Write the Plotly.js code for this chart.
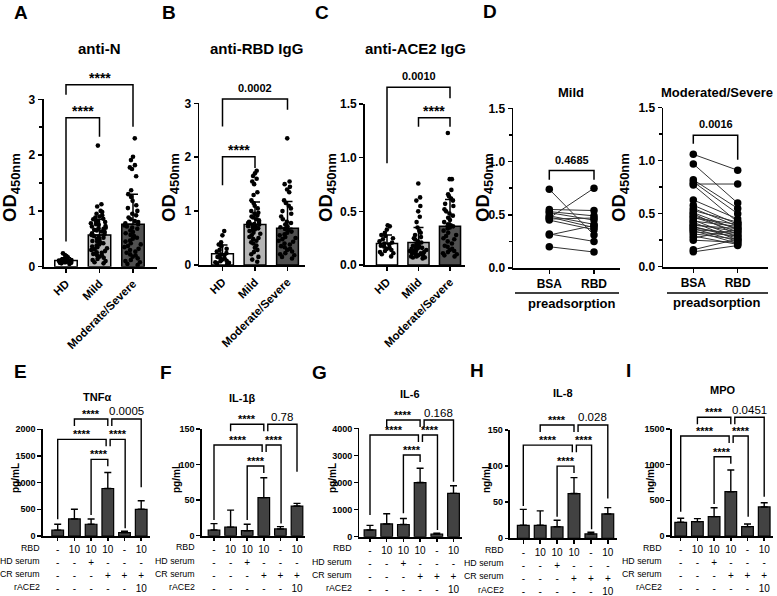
<!DOCTYPE html>
<html><head><meta charset="utf-8">
<script src="https://cdn.plot.ly/plotly-3.0.1.min.js"></script>
<style>html,body{margin:0;padding:0;background:#fff}#chart{width:777px;height:596px}</style>
</head><body><div id="chart"></div>
<script>
// ================= DATA =================
const groupCats = ['HD', 'Mild', 'Moderate/Severe'];

// anti-N (OD450nm)
const antiN_HD = [0.05,0.06,0.07,0.07,0.08,0.08,0.08,0.09,0.09,0.1,0.1,0.1,0.1,0.11,0.11,0.12,0.12,0.13,0.14,0.15,0.17,0.19,0.21,0.24];
const antiN_Mild = [2.17,1.12,1.08,1.0,0.98,0.95,0.92,0.9,0.88,0.86,0.85,0.82,0.8,0.8,0.78,0.76,0.75,0.73,0.72,0.7,0.69,0.68,0.66,0.65,0.63,0.62,0.6,0.58,0.57,0.55,0.53,0.52,0.5,0.48,0.46,0.45,0.43,0.42,0.4,0.38,0.36,0.35,0.33,0.31,0.3,0.28,0.26,0.25,0.23,0.21,0.2,0.18,0.16,0.14,0.12,0.1,0.08,0.06];
const antiN_Sev = [2.30,1.97,1.91,1.82,1.78,1.75,1.62,1.37,1.30,1.25,1.18,1.1,1.05,1.0,0.95,0.92,0.88,0.85,0.82,0.8,0.78,0.76,0.74,0.72,0.7,0.68,0.65,0.62,0.6,0.57,0.55,0.52,0.5,0.47,0.45,0.42,0.4,0.37,0.35,0.32,0.3,0.27,0.25,0.22,0.2,0.18,0.15,0.12,0.1,0.08,0.05,0.03];
const antiN_mean = [0.11, 0.57, 0.76];
const antiN_sd = [0.05, 0.28, 0.54];

// anti-RBD IgG
const antiRBD_HD = [0.63,0.55,0.42,0.38,0.35,0.3,0.28,0.25,0.22,0.2,0.18,0.15,0.13,0.12,0.1,0.08,0.07,0.05,0.04,0.03,0.02];
const antiRBD_Mild = [1.75,1.7,1.65,1.6,1.55,1.5,1.35,1.3,1.2,1.15,1.1,1.05,1.0,0.97,0.95,0.92,0.9,0.88,0.85,0.83,0.8,0.8,0.78,0.77,0.76,0.75,0.74,0.73,0.72,0.7,0.7,0.68,0.66,0.65,0.63,0.6,0.58,0.55,0.52,0.5,0.48,0.45,0.42,0.4,0.36,0.32,0.28,0.24,0.2,0.15,0.1,0.06];
const antiRBD_Sev = [2.35,1.55,1.5,1.45,1.4,1.35,1.2,1.15,1.1,1.05,1.0,0.95,0.9,0.85,0.8,0.78,0.75,0.72,0.7,0.67,0.65,0.62,0.6,0.57,0.55,0.52,0.5,0.48,0.45,0.43,0.4,0.38,0.35,0.33,0.3,0.28,0.25,0.22,0.2,0.18,0.15,0.12];
const antiRBD_mean = [0.21, 0.75, 0.68];
const antiRBD_sd = [0.16, 0.42, 0.5];

// anti-ACE2 IgG
const antiACE2_HD = [0.37,0.36,0.33,0.3,0.28,0.27,0.25,0.24,0.22,0.21,0.2,0.19,0.18,0.17,0.16,0.15,0.14,0.13,0.12,0.11,0.1,0.08];
const antiACE2_Mild = [0.76,0.63,0.6,0.55,0.5,0.45,0.4,0.35,0.32,0.3,0.28,0.26,0.25,0.24,0.22,0.21,0.2,0.19,0.18,0.18,0.17,0.16,0.16,0.15,0.15,0.14,0.14,0.13,0.13,0.12,0.12,0.11,0.11,0.1,0.1,0.09,0.09,0.08,0.08,0.07,0.07,0.06];
const antiACE2_Sev = [1.23,0.8,0.8,0.7,0.66,0.64,0.62,0.6,0.57,0.55,0.52,0.5,0.48,0.46,0.44,0.42,0.4,0.38,0.37,0.36,0.35,0.34,0.32,0.3,0.28,0.27,0.25,0.24,0.22,0.2,0.18,0.17,0.15,0.14,0.13,0.12,0.11,0.1,0.09,0.08];
const antiACE2_mean = [0.2, 0.21, 0.36];
const antiACE2_sd = [0.08, 0.14, 0.25];

// Preadsorption (paired)
const preCats = ['BSA', 'RBD'];
const mildBSA = [0.74,0.47,0.55,0.53,0.52,0.49,0.48,0.46,0.45,0.32,0.31,0.20];
const mildRBD = [0.31,0.75,0.54,0.49,0.45,0.41,0.38,0.47,0.36,0.25,0.40,0.15];
const sevBSA = [1.06,0.97,0.82,0.80,0.78,0.77,0.63,0.58,0.55,0.53,0.51,0.50,0.48,0.47,0.46,0.44,0.43,0.42,0.40,0.39,0.38,0.37,0.36,0.35,0.34,0.33,0.31,0.29,0.27,0.25,0.16,0.14];
const sevRBD = [0.91,0.60,0.55,0.50,0.78,0.42,0.45,0.40,0.38,0.42,0.35,0.30,0.36,0.33,0.40,0.28,0.38,0.25,0.33,0.36,0.27,0.30,0.24,0.32,0.22,0.29,0.26,0.21,0.35,0.23,0.26,0.20];

// Cytokine panels (6 conditions)
const rbdRow  = ['-','10','10','10','-','10'];
const hdRow   = ['-','-','+','-','-','-'];
const crRow   = ['-','-','-','+','+','+'];
const aceRow  = ['-','-','-','-','-','10'];
const rowLabels = ['RBD','HD serum','CR serum','rACE2'];

const tnfMean  = [110, 320, 220, 890, 65, 500];
const tnfSd    = [110, 180, 100, 300, 25, 160];
const il1bMean = [8, 12, 7, 53.5, 9.5, 41.7];
const il1bSd   = [9, 24, 9, 28, 3.3, 3.8];
const il6Mean  = [250, 470, 450, 2000, 100, 1600];
const il6Sd    = [170, 380, 220, 530, 25, 280];
const il8Mean  = [18, 18, 16, 62, 6, 33.7];
const il8Sd    = [22, 20, 9, 22, 2.3, 8.8];
const mpoMean  = [192, 201, 271, 621, 131, 407];
const mpoSd    = [56, 42, 126, 304, 37, 60];
const cytTitles = ['TNFα','IL-1β','IL-6','IL-8','MPO'];
const cytUnits  = ['pg/mL','pg/mL','pg/mL','ng/mL','ng/mL'];
const cytP      = ['0.0005','0.78','0.168','0.028','0.0451'];

// ================= LAYOUT GEOMETRY =================
const W = 777, H = 596;
const FONT = 'Liberation Sans, Arial, Helvetica, sans-serif';
const geo = {
  A:  {ax:43.5, xe:156.7, c0:66,    step:33.5, y0:266.7, ppu:55.8,  max:3,    dt:1},
  B:  {ax:199.3,xe:305,   c0:222.5, step:32.5, y0:265,   ppu:53.9,  max:3,    dt:1},
  C:  {ax:365,  xe:465,   c0:387,   step:31.5, y0:265,   ppu:107.3, max:1.5,  dt:0.5},
  D1: {ax:513.3,xe:620,   c0:549.3, step:44.7, y0:268,   ppu:106.4, max:1.5,  dt:0.5},
  D2: {ax:663.3,xe:768.3, c0:693.3, step:44.4, y0:266.7, ppu:106,   max:1.5,  dt:0.5},
  E:  {ax:42.7, xe:150,   c0:57.7,  step:16.7, y0:536,   ppu:106.7/2000, max:2000, dt:500, rowX:41.5},
  F:  {ax:201.7,xe:305,   c0:214,   step:16.6, y0:535.7, ppu:106.7/150,  max:150,  dt:50,  rowX:197.5},
  G:  {ax:359.3,xe:462,   c0:370,   step:16.7, y0:536.7, ppu:108.3/4000, max:4000, dt:1000, rowX:353.5},
  H:  {ax:510,  xe:616.7, c0:523.3, step:16.9, y0:538.3, ppu:108.3/150,  max:150,  dt:50,  rowX:505.5},
  I:  {ax:671.7,xe:773,   c0:680.7, step:16.7, y0:536,   ppu:107/1500,   max:1500, dt:500, rowX:664}
};
const xpx = (g,i) => g.c0 + i*g.step;
const ypx = (g,v) => g.y0 - v*g.ppu;
const PX = x => x/W, PY = y => 1 - y/H;

const layout = {
  width: W, height: H, margin:{l:0,r:0,t:0,b:0}, showlegend:false,
  paper_bgcolor:'#fff', plot_bgcolor:'rgba(0,0,0,0)',
  font:{family:FONT, color:'#000'},
  annotations:[], shapes:[]
};
const data = [];
const annotations = layout.annotations, shapes = layout.shapes;

function txt(x, y, text, size, weight, extra){
  annotations.push(Object.assign({xref:'paper', yref:'paper', x:PX(x), y:PY(y), text, showarrow:false,
    xanchor:'center', yanchor:'middle', font:{family:FONT, size, color:'#000', weight:weight||'bold'}}, extra||{}));
}
function bracket(g, x0, x1, yTop, b0, b1, thick){
  const X0 = PX(xpx(g,x0)), X1 = PX(xpx(g,x1));
  const T = PY(ypx(g,yTop)), Y0 = PY(typeof b0 === 'object' ? ypx(g,yTop)+b0.px : ypx(g,b0)), Y1 = PY(typeof b1 === 'object' ? ypx(g,yTop)+b1.px : ypx(g,b1));
  shapes.push({type:'path', xref:'paper', yref:'paper',
    path:`M ${X0},${Y0} L ${X0},${T} L ${X1},${T} L ${X1},${Y1}`, line:{color:'#000', width:thick||1.4}});
}

let axN = 0;
function makeAxes(g, opts){
  axN++;
  const xa = 'xaxis' + (axN===1?'':axN), ya = 'yaxis' + (axN===1?'':axN);
  const xr = 'x' + (axN===1?'':axN), yr = 'y' + (axN===1?'':axN);
  layout[xa] = Object.assign({
    domain:[PX(g.ax), PX(g.xe)], range:[(g.ax-g.c0)/g.step, (g.xe-g.c0)/g.step], anchor:yr,
    showline:true, linewidth:1.8, linecolor:'#000', ticks:'outside', ticklen:4, tickwidth:1.5, tickcolor:'#000',
    showgrid:false, zeroline:false, fixedrange:true
  }, opts.x||{});
  layout[ya] = Object.assign({
    domain:[PY(g.y0), PY(g.y0 - g.max*g.ppu)], range:[0, g.max], anchor:xr,
    showline:true, linewidth:1.8, linecolor:'#000', ticks:'outside', ticklen:4, tickwidth:1.5, tickcolor:'#000',
    tickmode:'linear', tick0:0, dtick:g.dt,
    showgrid:false, zeroline:false, fixedrange:true
  }, opts.y||{});
  return {x:xr, y:yr};
}

// ---------- Top scatter/bar panels ----------
const barFill = ['#ffffff', '#b4b4b4', '#505050'];
function groupPanel(g, groups, means, sds, title, titleX, yfmt, minor){
  const yopts = {tickfont:{family:FONT, size:12, weight:'bold'}, tickformat:yfmt||''};
  if (minor) yopts.minor = {ticks:'outside', dtick:minor, ticklen:2.5, tickwidth:1.5, tickcolor:'#000'};
  const a = makeAxes(g, {
    x:{tickmode:'array', tickvals:[0,1,2], ticktext:groupCats, tickangle:-45,
       tickfont:{family:FONT, size:11.5, weight:'bold'}},
    y:yopts
  });
  data.push({type:'bar', x:[0,1,2], y:means, width:0.67, xaxis:a.x, yaxis:a.y,
    marker:{color:barFill, line:{color:'#000', width:1.5}},
    error_y:{type:'data', symmetric:false, array:sds, arrayminus:sds.map(()=>0), color:'#000', thickness:1.5, width:5},
    hoverinfo:'skip'});
  groups.forEach((vals, i) => {
    data.push({type:'box', x:vals.map(()=>i), y:vals, xaxis:a.x, yaxis:a.y, width:0.62,
      boxpoints:'all', jitter:0.9, pointpos:0, fillcolor:'rgba(0,0,0,0)',
      line:{color:'rgba(0,0,0,0)', width:0}, marker:{color:'#000', size:4.6}, hoverinfo:'skip'});
  });
  txt(titleX, 48, title, 15);
}

groupPanel(geo.A, [antiN_HD, antiN_Mild, antiN_Sev], antiN_mean, antiN_sd, 'anti-N', 99, '', 0.5);
groupPanel(geo.B, [antiRBD_HD, antiRBD_Mild, antiRBD_Sev], antiRBD_mean, antiRBD_sd, 'anti-RBD IgG', 256);
groupPanel(geo.C, [antiACE2_HD, antiACE2_Mild, antiACE2_Sev], antiACE2_mean, antiACE2_sd, 'anti-ACE2 IgG', 415, '.1f');

// brackets top
function topBracket(g, x0, x1, y, b0, b1, label){
  bracket(g, x0, x1, y, b0, b1, 1.5);
  const isStar = label.indexOf('*') >= 0;
  txt((xpx(g,x0)+xpx(g,x1))/2, ypx(g,y) - (isStar ? 7 : 11), label, isStar ? 14 : 11);
}
topBracket(geo.A, 0, 1, 2.67, 0.45, 2.33, '****');
topBracket(geo.A, 0, 2, 3.26, 3.08, 2.51, '****');
topBracket(geo.B, 0, 1, 2.01, 1.48, 1.80, '****');
topBracket(geo.B, 0, 2, 3.08, 2.57, 2.88, '0.0002');
topBracket(geo.C, 0, 2, 1.656, 0.948, 1.553, '0.0010');
topBracket(geo.C, 1, 2, 1.373, 1.289, 1.289, '****');

// ---------- Paired panels ----------
function pairedPanel(g, bsa, rbd, title, titleX, p, pY, pB0, pB1){
  const a = makeAxes(g, {
    x:{tickmode:'array', tickvals:[0,1], ticktext:preCats, tickfont:{family:FONT, size:12, weight:'bold'}},
    y:{tickfont:{family:FONT, size:12, weight:'bold'}, tickformat:'.1f',
       minor:{ticks:'outside', dtick:0.25, ticklen:2.5, tickwidth:1.5, tickcolor:'#000'}}
  });
  const xs = [], ys = [];
  bsa.forEach((v,i) => { xs.push(0,1,null); ys.push(v, rbd[i], null); });
  data.push({type:'scatter', mode:'lines+markers', x:xs, y:ys, xaxis:a.x, yaxis:a.y, connectgaps:false,
    line:{color:'#333', width:1}, marker:{color:'#000', size:7.5}, hoverinfo:'skip', cliponaxis:false});
  txt(titleX, 92, title, 13);
  topBracket(g, 0, 1, pY, pB0, pB1, p);
}
pairedPanel(geo.D1, mildBSA, mildRBD, 'Mild', 571, '0.4685', 0.916, 0.83, 0.83);
pairedPanel(geo.D2, sevBSA, sevRBD, 'Moderated/Severe', 717, '0.0016', 1.24, 1.16, 1.01);
// preadsorption underline + label
shapes.push({type:'line', xref:'paper', yref:'paper', x0:PX(515), x1:PX(619), y0:PY(293), y1:PY(293), line:{color:'#000', width:1.6}});
shapes.push({type:'line', xref:'paper', yref:'paper', x0:PX(667), x1:PX(768), y0:PY(293), y1:PY(293), line:{color:'#000', width:1.6}});
txt(571, 303, 'preadsorption', 13);
txt(716, 302, 'preadsorption', 13);

// ---------- OD axis titles ----------
[11, 170, 327, 484, 620].forEach(x => txt(x, 188, 'OD<sub>450nm</sub>', 18.5, 'bold', {textangle:-90}));

// ---------- Panel letters ----------
[['A',21,13],['B',169,13],['C',322,13],['D',490,12],['E',20,371],['F',166,372],['G',319,372],['H',477,370],['I',628,370]]
  .forEach(l => txt(l[1], l[2], l[0], 19));

// ---------- Cytokine panels ----------
const cytMeans = [tnfMean, il1bMean, il6Mean, il8Mean, mpoMean];
const cytSds = [tnfSd, il1bSd, il6Sd, il8Sd, mpoSd];
const cytGeo = [geo.E, geo.F, geo.G, geo.H, geo.I];
const cytTitlePos = [[97,397],[242,398],[410,394],[563,393],[723,390]];
const cytUnitX = [15, 176, 332, 486, 650];
// bracket levels & leg ends (data units) per panel
const cytBr = [
  {L:[2194,1812,1437], lb1:312, lb3:394, lb5:144, lb6:912},
  {L:[156.6,127.5,98], lb1:22,  lb3:22,  lb5:17,  lb6:90},
  {L:[4308,3754,3016], lb1:800, lb3:862, lb5:246, lb6:2031},
  {L:[157,129,100],    lb1:44.8,lb3:30,  lb5:12.5,lb6:55},
  {L:[1664,1402,1112], lb1:341, lb3:449, lb5:271, lb6:551}
];
const tickText = rbdRow.map((v,i) => [v, hdRow[i], crRow[i], aceRow[i]].join('<br>'));

cytGeo.forEach((g, k) => {
  const a = makeAxes(g, {
    x:{tickmode:'array', tickvals:[0,1,2,3,4,5], ticktext:tickText, tickangle:0, ticklen:3.5,
       tickfont:{family:FONT, size:10, weight:'normal'}},
    y:{tickfont:{family:FONT, size:9, weight:'bold'}, ticklen:3.5}
  });
  data.push({type:'bar', x:[0,1,2,3,4,5], y:cytMeans[k], width:0.7, xaxis:a.x, yaxis:a.y,
    marker:{color:'#424242', line:{color:'#000', width:1.2}},
    error_y:{type:'data', symmetric:false, array:cytSds[k], arrayminus:cytSds[k].map(()=>0), color:'#000', thickness:1.4, width:3.5},
    hoverinfo:'skip'});
  txt(cytTitlePos[k][0], cytTitlePos[k][1], cytTitles[k], 11);
  txt(cytUnitX[k], 478, cytUnits[k], 10, 'bold', {textangle:-90});
  rowLabels.forEach((r, j) => txt(g.rowX, g.y0 + 11.5 + j*13.3, r, 8.8, 'normal', {xanchor:'right'}));
  const b = cytBr[k], s = {px:7};
  const L1 = b.L[0], L2 = b.L[1], L3 = b.L[2];
  bracket(g, 1, 3, L1, s, s);
  bracket(g, 3.24, 5, L1, s, b.lb6);
  bracket(g, 0, 2.9, L2, b.lb1, s);
  bracket(g, 3.14, 4.04, L2, s, b.lb5);
  bracket(g, 2, 3, L3, b.lb3, s);
  const st = (x, L) => txt(xpx(g,x), ypx(g,L) - 5, '****', 11);
  st(2, L1); st(1.45, L2); st(3.59, L2); st(2.5, L3);
  txt(xpx(g,4.12), ypx(g,L1) - 7.5, cytP[k], 11.5, 'normal');
});

Plotly.newPlot('chart', data, layout, {staticPlot:true});
</script></body></html>
